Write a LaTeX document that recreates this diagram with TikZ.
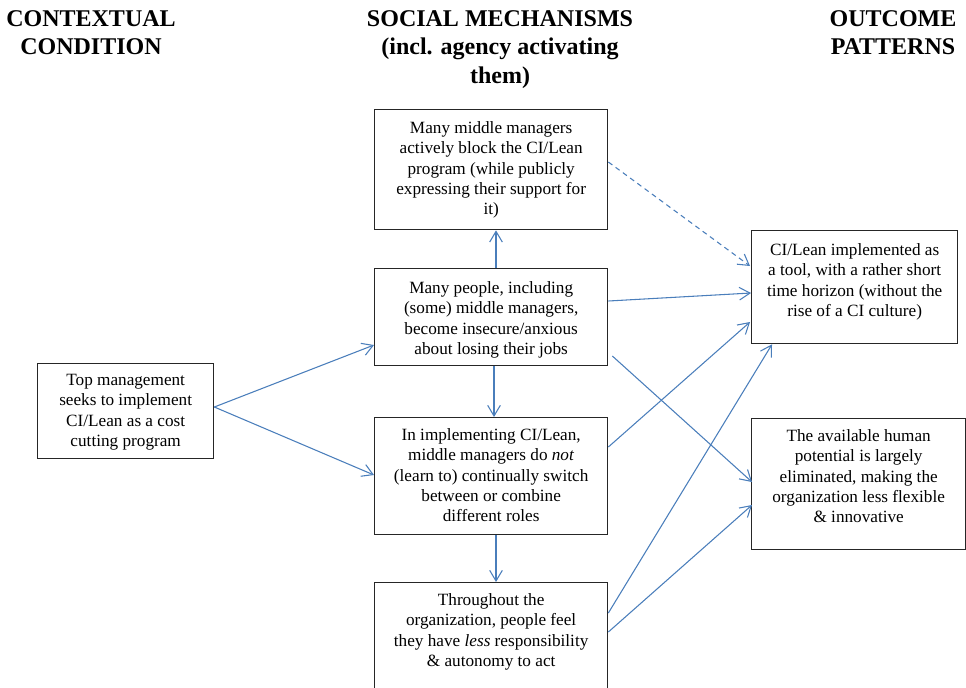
\documentclass[tikz,border=0pt]{standalone}
\usepackage{fontspec}
\setmainfont{Liberation Serif}
\usetikzlibrary{arrows.meta,calc}
\newdimen\pxu \pxu=0.75pt
\definecolor{arrowblue}{RGB}{74,126,187}
\newcommand\bxtext[4]{\parbox[c][#2\pxu][t]{#1\pxu}{\centering\rule{0pt}{#3\pxu}#4\par}}
\tikzset{
  mbox/.style={draw=black!85, line width=1pt, inner sep=0pt, anchor=north west,
    font=\fontsize{12.9}{15.15}\selectfont},
  title/.style={anchor=north, inner sep=0pt, align=center,
    font=\fontsize{18}{21.4}\selectfont\bfseries},
  conn/.style={draw=arrowblue, line width=0.8pt,
    -{Straight Barb[length=8pt,width=9.5pt,line width=0.8pt]}},
  dconn/.style={conn, dash pattern=on 3.75pt off 3pt}
}
\begin{document}
\begin{tikzpicture}[x=0.75pt,y=-0.75pt]
\useasboundingbox (0,0) rectangle (966,687);
\clip (0,0) rectangle (966,687);
% titles
\node[title] (t1) at (91,0) {\rule{0pt}{26\pxu}CONTEXTUAL\\CONDITION};
\node[title] (t2) at (500,0) {\rule{0pt}{26\pxu}SOCIAL MECHANISMS\\(incl. agency activating\\them)};
\node[title] (t3) at (893,0) {\rule{0pt}{26\pxu}OUTCOME\\PATTERNS};
% boxes
\node[mbox] (L) at (37,363) {\bxtext{176}{95}{22}{Top management\\seeks to implement\\CI/Lean as a cost\\cutting program}};
\node[mbox] (A) at (374,109) {\bxtext{233}{120}{24}{Many middle managers\\actively block the CI/Lean\\program (while publicly\\expressing their support for\\it)}};
\node[mbox] (B) at (374,268) {\bxtext{233}{97}{25}{Many people, including\\(some) middle managers,\\become insecure/anxious\\about losing their jobs}};
\node[mbox] (C) at (374,417) {\bxtext{233}{117}{23}{In implementing CI/Lean,\\middle managers do \textit{not}\\(learn to) continually switch\\between or combine\\different roles}};
\node[mbox] (D) at (374,582) {\bxtext{233}{125}{23}{Throughout the\\organization, people feel\\they have \textit{less} responsibility\\\& autonomy to act}};
\node[mbox] (E) at (751,230) {\bxtext{206}{113}{25}{CI/Lean implemented as\\a tool, with a rather short\\time horizon (without the\\rise of a CI culture)}};
\node[mbox] (F) at (751,418) {\bxtext{214}{131}{23}{The available human\\potential is largely\\eliminated, making the\\organization less flexible\\\& innovative}};
% connectors
\draw[conn] ($(L.north east)+(0,44)$) -- ($(B.north west)+(0,77)$);
\draw[conn] ($(L.north east)+(0,44)$) -- ($(C.north west)+(0,58)$);
\draw[conn] ($(B.north west)+(122,0)$) -- ($(A.south west)+(122,0)$);
\draw[conn] ($(B.south west)+(120,0)$) -- ($(C.north west)+(120,0)$);
\draw[conn] ($(C.south west)+(122,0)$) -- ($(D.north west)+(122,0)$);
\draw[dconn] ($(A.north east)+(0,53)$) -- ($(E.north west)+(-1,36)$);
\draw[conn] ($(B.north east)+(0,33)$) -- ($(E.north west)+(0,63)$);
\draw[conn] ($(B.north east)+(4,88)$) -- ($(F.north west)+(1,64)$);
\draw[conn] ($(C.north east)+(0,30)$) -- ($(E.north west)+(-1,92)$);
\draw[conn] ($(D.north east)+(0,31)$) -- ($(E.south west)+(21,0)$);
\draw[conn] ($(D.north east)+(0,50)$) -- ($(F.north west)+(1,87)$);
\end{tikzpicture}
\end{document}
